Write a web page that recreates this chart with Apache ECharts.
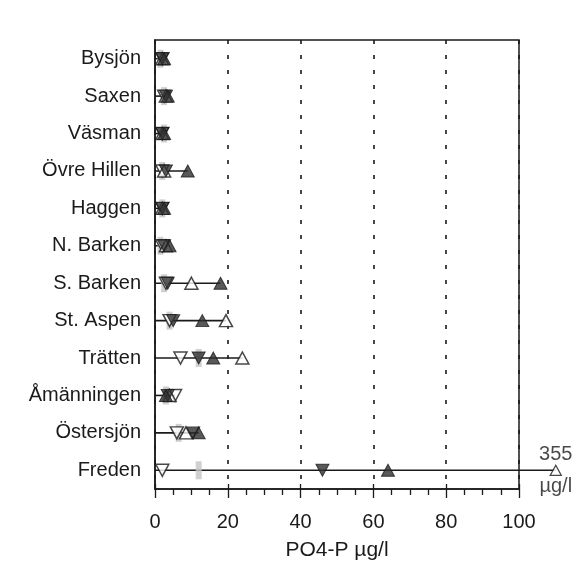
<!DOCTYPE html>
<html>
<head>
<meta charset="utf-8">
<script src="https://cdn.jsdelivr.net/npm/echarts@6/dist/echarts.min.js"></script>
<style>
  html, body { margin: 0; padding: 0; background: #ffffff; }
  #chart { width: 580px; height: 573px; }
</style>
</head>
<body>
<div id="chart"></div>
<script>
// Lakes, top to bottom
const lakes = ['Bysjön', 'Saxen', 'Väsman', 'Övre Hillen', 'Haggen', 'N. Barken',
               'S. Barken', 'St. Aspen', 'Trätten', 'Åmänningen', 'Östersjön', 'Freden'];

// PO4-P (µg/l) per lake for the four marker kinds
const openDown   = [2.0, 2.5, 2.0, 2.0, 2.0, 2.0, 3.0, 4.0, 7.0, 5.5, 6.0, 2.0];   // ▽
const filledDown = [2.0, 3.0, 2.0, 3.0, 2.0, 2.5, 3.5, 5.0, 12.0, 3.5, 10.5, 46.0]; // ▼
const filledUp   = [2.5, 3.5, 2.5, 9.0, 2.5, 4.0, 18.0, 13.0, 16.0, 3.0, 12.0, 64.0]; // ▲
const openUp     = [2.0, 3.0, 2.0, 2.5, 2.0, 3.0, 10.0, 19.5, 24.0, 4.0, 8.5, 355]; // △
const grayMark   = [1.5, 2.5, 2.5, 2.0, 2.0, 1.5, 2.5, 4.0, 12.0, 3.0, 6.5, 12.0];

const xTicks = [0, 20, 40, 60, 80, 100];

// Range line of each lake: from 0 to its largest value
const rangeMax = lakes.map((_, i) =>
  Math.max(openDown[i], filledDown[i], filledUp[i], openUp[i], grayMark[i]));

const ink = '#1a1a1a';
const font = 'Liberation Sans, Arial, Helvetica, sans-serif';
const pts = arr => arr.map((v, i) => [v, lakes[i]]);

const chart = echarts.init(document.getElementById('chart'), null, { renderer: 'canvas' });

const markerSeries = (name, data, opts, xi) => Object.assign({
  name, type: 'scatter', xAxisIndex: xi, yAxisIndex: xi, data: pts(data),
  symbolSize: [13, 12], clip: true, z: 5, animation: false
}, opts);

const series = [];
[0, 1].forEach(xi => {
  series.push({
    type: 'bar', xAxisIndex: xi, yAxisIndex: xi,
    data: rangeMax.map((v, i) => [v, lakes[i]]),
    barWidth: 1.6, itemStyle: { color: ink }, clip: true, z: 2, animation: false
  });
});
series.push(markerSeries('gray', grayMark, {
  symbol: 'rect', symbolSize: [6, 18], itemStyle: { color: '#c4c4c4' }, z: 3
}, 0));
series.push(markerSeries('openDown', openDown, {
  symbol: 'triangle', symbolRotate: 180,
  itemStyle: { color: '#ffffff', borderColor: ink, borderWidth: 1.5 }
}, 0));
series.push(markerSeries('openUp', openUp, {
  symbol: 'triangle',
  itemStyle: { color: '#ffffff', borderColor: ink, borderWidth: 1.5 }
}, 0));
series.push(markerSeries('filledDown', filledDown, {
  symbol: 'triangle', symbolRotate: 180,
  itemStyle: { color: '#303030', borderColor: ink, borderWidth: 1 }
}, 0));
series.push(markerSeries('filledUp', filledUp, {
  symbol: 'triangle',
  itemStyle: { color: '#303030', borderColor: ink, borderWidth: 1 }
}, 0));
// Off-scale value shown to the right of the frame
series.push(markerSeries('openUpOff', openUp, {
  symbol: 'triangle', symbolSize: [11, 10],
  itemStyle: { color: '#ffffff', borderColor: ink, borderWidth: 1.3 },
  label: {
    show: true, position: 'inside', color: ink, fontFamily: font, fontSize: 20,
    lineHeight: 16,
    formatter: p => p.value[0] + '\n\nµg/l'
  }
}, 1));

const tickStyle = { color: ink, width: 1.3 };

chart.setOption({
  backgroundColor: '#ffffff',
  animation: false,
  grid: [
    { left: 155, right: 61, top: 40, bottom: 84, show: true,
      borderColor: ink, borderWidth: 1.5, backgroundColor: 'transparent' },
    { left: 519, right: 12, top: 40, bottom: 84, show: false }
  ],
  xAxis: [
    {
      type: 'value', gridIndex: 0, min: xTicks[0], max: xTicks[xTicks.length - 1], interval: 20,
      name: 'PO4-P µg/l', nameLocation: 'middle', nameGap: 51,
      nameTextStyle: { color: ink, fontFamily: font, fontSize: 21 },
      axisLine: { show: true, lineStyle: { color: ink, width: 1.5 } },
      axisTick: { show: true, length: 9, lineStyle: tickStyle },
      minorTick: { show: true, splitNumber: 4, length: 6, lineStyle: tickStyle },
      axisLabel: { color: ink, fontFamily: font, fontSize: 20, margin: 23,
                   formatter: v => xTicks.includes(v) ? String(v) : '' },
      splitLine: { show: true, lineStyle: { color: ink, width: 1.6, type: [4, 11] } }
    },
    {
      type: 'value', gridIndex: 1, min: 340, max: 360, show: false
    },
    {
      // short inner part of the major ticks
      type: 'value', gridIndex: 0, min: xTicks[0], max: xTicks[xTicks.length - 1], interval: 20,
      position: 'bottom',
      axisLine: { show: false },
      axisTick: { show: true, inside: true, length: 5, lineStyle: tickStyle },
      axisLabel: { show: false },
      splitLine: { show: false }
    }
  ],
  yAxis: [
    {
      type: 'category', gridIndex: 0, data: lakes, inverse: true,
      axisLine: { show: true, lineStyle: { color: ink, width: 1.5 } },
      axisTick: { show: false },
      axisLabel: { color: ink, fontFamily: font, fontSize: 20, margin: 14 },
      splitLine: { show: false }
    },
    {
      type: 'category', gridIndex: 1, data: lakes, inverse: true, show: false
    }
  ],
  series
});
</script>
</body>
</html>
